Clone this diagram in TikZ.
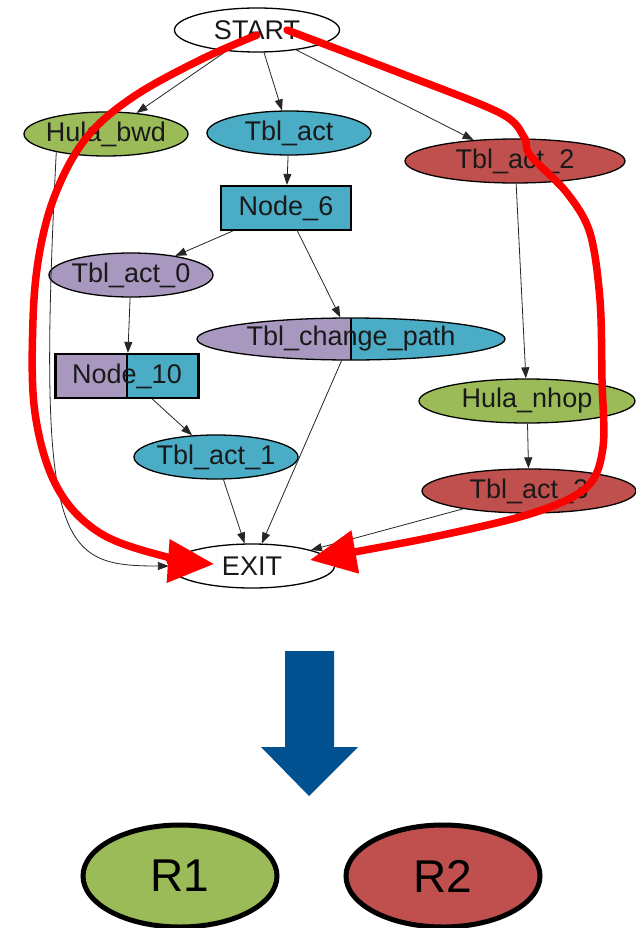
\documentclass[tikz,border=0pt]{standalone}
\usepackage{fontspec}
\setmainfont{Liberation Sans}
\usetikzlibrary{arrows.meta,shapes.geometric}
\definecolor{cgreen}{HTML}{9BBB59}
\definecolor{cteal}{HTML}{4BACC6}
\definecolor{cpurple}{HTML}{A898C0}
\definecolor{cred}{HTML}{C0504D}
\definecolor{cblue}{HTML}{025291}
\definecolor{hilite}{HTML}{FF0000}
\newcommand{\gtxt}[1]{\makebox[0pt]{#1}}
\begin{document}
\begin{tikzpicture}[x=1pt,y=-1pt,
  gell/.style={ellipse, draw=black, line width=1.3pt, inner sep=0pt,
    font=\fontsize{27}{30}\selectfont, text=black!90, minimum height=44pt},
  gbox/.style={rectangle, draw=black, line width=2.2pt, inner sep=0pt,
    font=\fontsize{27}{30}\selectfont, text=black!90, minimum height=44pt},
  gedge/.style={-{Triangle[length=11pt,width=8pt]}, line width=0.8pt, draw=black!85},
  redpath/.style={draw=hilite, line width=7.5pt, line cap=round, line join=round,
    -{Triangle[length=46pt,width=42pt]}},
  split/.style={path picture={
    \fill[cpurple] (path picture bounding box.south west) rectangle (path picture bounding box.north);
    \fill[cteal] (path picture bounding box.south) rectangle (path picture bounding box.north east);
    \draw[black, line width=1.5pt] (path picture bounding box.south) -- (path picture bounding box.north);}},
  rnode/.style={ellipse, draw=black, line width=5pt, inner sep=0pt,
    minimum width=194pt, minimum height=102pt, font=\fontsize{46}{50}\selectfont}
]
\useasboundingbox[fill=white] (0,0) rectangle (636,928);

% graph nodes
\node[gell, fill=white, minimum width=165pt] (start) at (257,30) {\gtxt{START}};
\node[gell, fill=cgreen, minimum width=164pt] (hb) at (106,134) {\gtxt{Hula\_bwd}};
\node[gell, fill=cteal, minimum width=164pt] (ta) at (289,133) {\gtxt{Tbl\_act}};
\node[gell, fill=cred, minimum width=220pt] (ta2) at (515,161) {\gtxt{Tbl\_act\_2}};
\node[gbox, fill=cteal, minimum width=130pt] (n6) at (286,208) {\gtxt{Node\_6}};
\node[gell, fill=cpurple, minimum width=164pt] (ta0) at (131,275) {\gtxt{Tbl\_act\_0}};
\node[gell, split, minimum width=308pt, minimum height=42pt] (tcp) at (351,339) {\gtxt{Tbl\_change\_path}};
\node[gbox, split, minimum width=143pt] (n10) at (127,376) {\gtxt{Node\_10}};
\node[gell, fill=cteal, minimum width=164pt] (ta1) at (216,457) {\gtxt{Tbl\_act\_1}};
\node[gell, fill=cgreen, minimum width=216pt] (hn) at (527,401) {\gtxt{Hula\_nhop}};
\node[gell, fill=cred, minimum width=214pt] (ta3) at (529,491) {\gtxt{Tbl\_act\_3}};
\node[gell, fill=white, minimum width=165pt] (exit) at (252,566) {\gtxt{EXIT}};

% graph edges
\draw[gedge] (start) -- (hb);
\draw[gedge] (start) -- (ta);
\draw[gedge] (start) -- (ta2);
\draw[gedge] (ta) -- (n6);
\draw[gedge] (n6) -- (ta0);
\draw[gedge] (n6) -- (tcp);
\draw[gedge] (ta0) -- (n10);
\draw[gedge] (n10) -- (ta1);
\draw[gedge] (ta1) -- (exit);
\draw[gedge] (tcp) -- (exit);
\draw[gedge] (ta2) -- (hn);
\draw[gedge] (hn) -- (ta3);
\draw[gedge] (ta3) -- (exit);
\draw[gedge] (hb.200) .. controls (36,550) and (60,566) .. (exit.west);

% red highlight paths
\draw[redpath] plot[smooth, tension=0.6] coordinates {
  (257,35) (200,60) (133,97) (87,137) (57,190) (40,250) (33,320)
  (35,413) (57,487) (100,533) (167,557) (214,564)};
\draw[redpath] plot[smooth, tension=0.55] coordinates {
  (287,30) (400,73) (500,113) (524,137) (530,155) (567,193) (590,233)
  (600,300) (602,380) (603,447) (587,487) (533,513) (433,537) (310,560)};

% big blue arrow
\fill[cblue] (285,651) -- (334,651) -- (334,747) -- (358,747) -- (309,796)
  -- (261,747) -- (285,747) -- cycle;

% result nodes
\node[rnode, fill=cgreen] (r1) at (180,876) {R1};
\node[rnode, fill=cred] (r2) at (443,876) {R2};
\end{tikzpicture}
\end{document}
